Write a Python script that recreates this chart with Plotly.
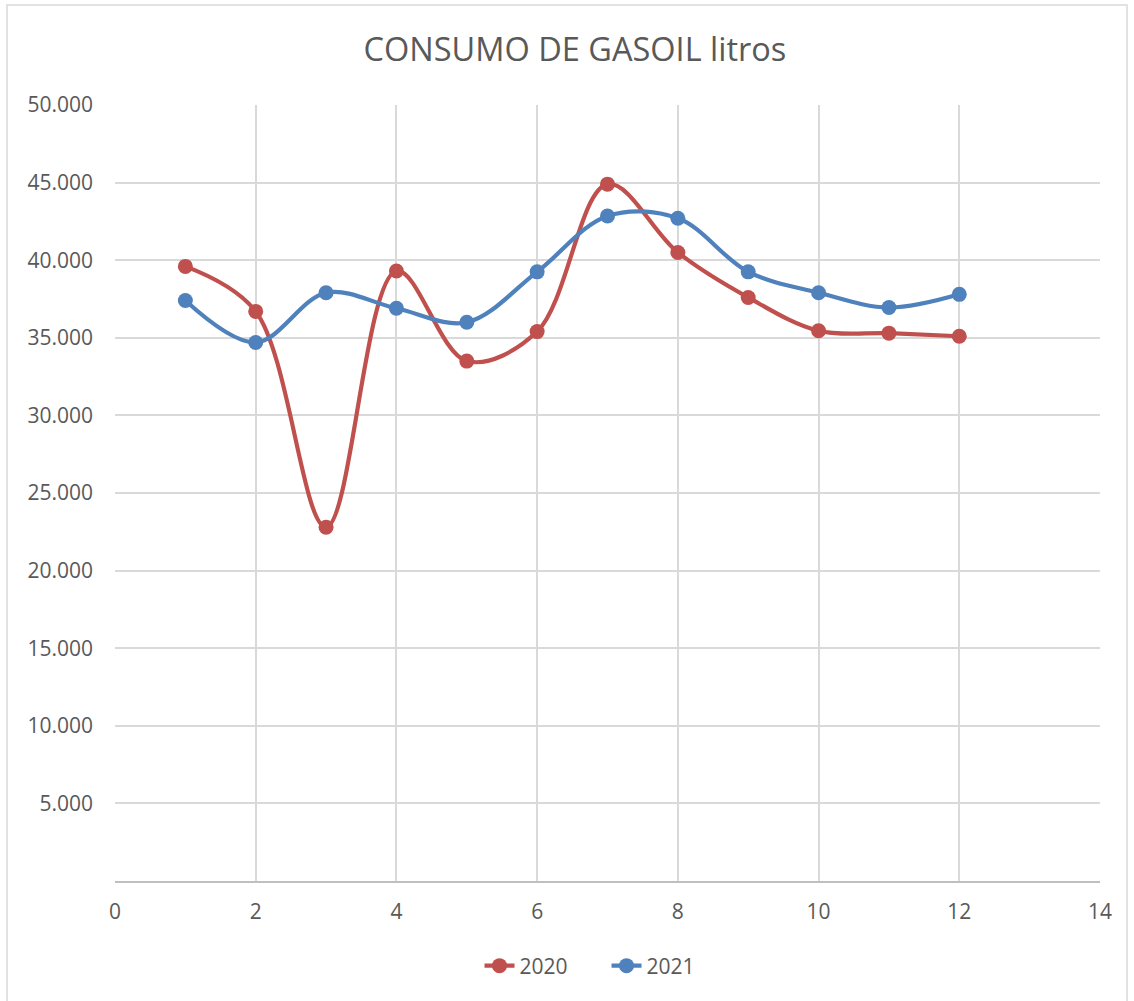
import plotly.graph_objects as go

months = [1, 2, 3, 4, 5, 6, 7, 8, 9, 10, 11, 12]
consumo_2020 = [39600, 36700, 22800, 39300, 33500, 35400, 44900, 40500, 37600, 35450, 35300, 35100]
consumo_2021 = [37400, 34700, 37900, 36900, 36000, 39250, 42850, 42700, 39250, 37900, 36950, 37800]

y_tickvals = [0, 5000, 10000, 15000, 20000, 25000, 30000, 35000, 40000, 45000, 50000]
y_ticktext = ["", "5.000", "10.000", "15.000", "20.000", "25.000", "30.000", "35.000", "40.000", "45.000", "50.000"]
x_tickvals = [0, 2, 4, 6, 8, 10, 12, 14]

RED = "#C0504D"
BLUE = "#4F81BD"
TXT = "#595959"
FONT = "Open Sans"

fig = go.Figure()
fig.add_trace(go.Scatter(x=months, y=consumo_2020, name="2020", mode="lines+markers",
                         line=dict(color=RED, width=4.2, shape="spline", smoothing=1.0),
                         marker=dict(color=RED, size=15)))
fig.add_trace(go.Scatter(x=months, y=consumo_2021, name="2021", mode="lines+markers",
                         line=dict(color=BLUE, width=4.2, shape="spline", smoothing=1.0),
                         marker=dict(color=BLUE, size=15)))

W, H = 1134, 1001
L, R, T, B = 115, 34, 105, 120
pw, ph = W - L - R, H - T - B

def px2paper_x(px):
    return (px - L) / pw

def px2paper_y(py):
    return (H - B - py) / ph

fig.update_layout(
    width=W, height=H,
    margin=dict(l=L, r=R, t=T, b=B),
    paper_bgcolor="white", plot_bgcolor="white",
    font=dict(family=FONT, color=TXT, size=20),
    title=dict(text="CONSUMO DE GASOIL litros", x=0.507, xanchor="center",
               y=1 - 50 / H, yanchor="middle", font=dict(size=32.5, color=TXT, family=FONT)),
    showlegend=True,
    legend=dict(orientation="h", x=0.499, xanchor="center", y=px2paper_y(966), yanchor="middle",
                font=dict(size=21, color=TXT), entrywidth=82, entrywidthmode="pixels",
                traceorder="normal"),
    xaxis=dict(range=[0, 14], tickvals=x_tickvals, showgrid=True, gridcolor="#D9D9D9", gridwidth=1.5,
               zeroline=False, showline=True, linecolor="#BFBFBF", linewidth=1.5,
               ticks="", ticklabelstandoff=11, tickfont=dict(size=21, color=TXT)),
    yaxis=dict(range=[0, 50000], tickvals=y_tickvals, ticktext=y_ticktext, showgrid=True,
               gridcolor="#D9D9D9", gridwidth=1.5, zeroline=False, showline=False,
               ticks="", ticklabelstandoff=21, tickfont=dict(size=21, color=TXT)),
    shapes=[dict(type="rect", xref="paper", yref="paper",
                 x0=px2paper_x(7), x1=px2paper_x(1127), y0=px2paper_y(1005), y1=px2paper_y(5),
                 line=dict(color="#D9D9D9", width=1.5), fillcolor="rgba(0,0,0,0)", layer="below")],
)

fig.write_html("out.html", config={"displayModeBar": False},
               post_script="document.body.style.margin='0';")
